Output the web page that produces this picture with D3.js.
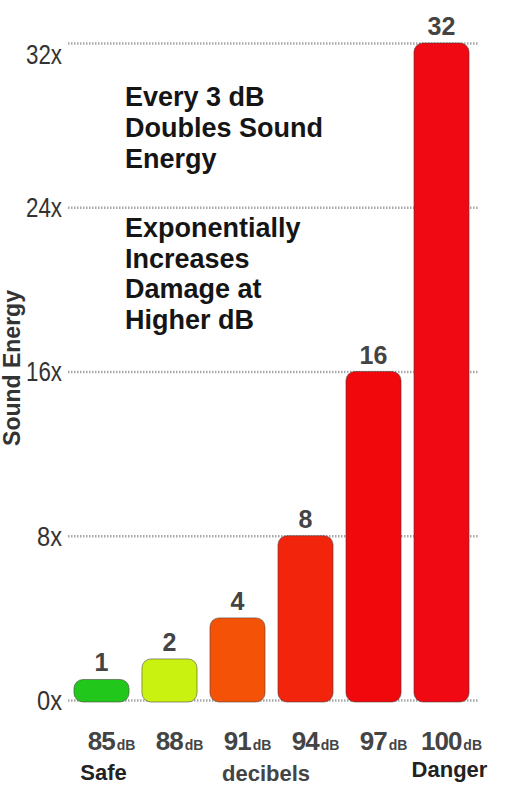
<!DOCTYPE html>
<html>
<head>
<meta charset="utf-8">
<script src="https://cdn.jsdelivr.net/npm/d3@7"></script>
<style>
  body { margin: 0; background: #fff; }
  svg { display: block; font-family: "Liberation Sans", Arial, sans-serif; }
</style>
</head>
<body>
<svg id="chart" width="509" height="792"></svg>
<script>
// data
const decibels = ["85", "88", "91", "94", "97", "100"];
const energy = [1, 2, 4, 8, 16, 32];
const barColors = ["#22c71c", "#c9f210", "#f45207", "#f2240b", "#f0080d", "#f00812"];
const yTicks = [0, 8, 16, 24, 32];
const noteTop = ["Every 3 dB", "Doubles Sound", "Energy"];
const noteBottom = ["Exponentially", "Increases", "Damage at", "Higher dB"];

const svg = d3.select("#chart");

const x = d3.scaleBand()
  .domain(decibels)
  .range([67.5, 475.5])
  .paddingInner(0.19)
  .paddingOuter(0.095);

const y = d3.scaleLinear()
  .domain([0, 32])
  .range([700, 43]);

// gridlines + tick labels
const yAxis = svg.append("g")
  .attr("transform", "translate(68,0)")
  .call(d3.axisLeft(y)
    .tickValues(yTicks)
    .tickSize(-410)
    .tickPadding(6)
    .tickFormat(d => d + "x"));

yAxis.select(".domain").remove();
yAxis.selectAll(".tick line")
  .attr("stroke", "#a8a8a8")
  .attr("stroke-width", 2.5)
  .attr("stroke-dasharray", "1.5,1.5");
// narrow look: squeeze the glyphs
yAxis.selectAll(".tick text")
  .attr("fill", "#333")
  .attr("font-size", 27)
  .attr("font-family", '"Liberation Sans", Arial, sans-serif')
  .attr("textLength", d => d >= 10 ? 36 : 25)
  .attr("lengthAdjust", "spacingAndGlyphs")
  .attr("dy", d => d === 32 ? "0.75em" : "0.35em");

// bars
svg.append("g")
  .selectAll("rect")
  .data(energy)
  .join("rect")
  .attr("x", (d, i) => x(decibels[i]))
  .attr("y", d => y(d))
  .attr("width", x.bandwidth())
  .attr("height", d => y(0) - y(d) + 2)
  .attr("rx", 9)
  .attr("fill", (d, i) => barColors[i])
  .attr("stroke", "rgba(70,60,60,0.55)")
  .attr("stroke-width", 1);

// value labels
svg.append("g")
  .selectAll("text")
  .data(energy)
  .join("text")
  .attr("x", (d, i) => x(decibels[i]) + x.bandwidth() / 2)
  .attr("y", d => y(d) - 8)
  .attr("text-anchor", "middle")
  .attr("font-size", 25)
  .attr("font-weight", "bold")
  .attr("fill", "#444")
  .text(d => d);

// x labels: number + small dB
const xl = svg.append("g")
  .selectAll("text")
  .data(decibels)
  .join("text")
  .attr("x", d => x(d) + x.bandwidth() / 2 + 10)
  .attr("y", 750)
  .attr("text-anchor", "middle")
  .attr("font-weight", "bold")
  .attr("fill", "#444");
xl.append("tspan").attr("font-size", 26).attr("letter-spacing", -1).text(d => d);
xl.append("tspan").attr("font-size", 14).attr("dx", 2).text("dB");

// Safe / decibels / Danger
const first = decibels[0], last = decibels[decibels.length - 1];
svg.append("text")
  .attr("x", x(first) + x.bandwidth() / 2 + 2)
  .attr("y", 780)
  .attr("text-anchor", "middle")
  .attr("font-size", 22).attr("font-weight", "bold").attr("fill", "#222")
  .text("Safe");
svg.append("text")
  .attr("x", 266)
  .attr("y", 781)
  .attr("text-anchor", "middle")
  .attr("font-size", 22).attr("font-weight", "bold").attr("fill", "#444")
  .text("decibels");
svg.append("text")
  .attr("x", x(last) + x.bandwidth() / 2 + 8)
  .attr("y", 777)
  .attr("text-anchor", "middle")
  .attr("font-size", 22).attr("font-weight", "bold").attr("fill", "#222")
  .text("Danger");

// y title
svg.append("text")
  .attr("transform", "translate(20,368) rotate(-90)")
  .attr("text-anchor", "middle")
  .attr("font-size", 23)
  .attr("font-weight", "bold")
  .attr("fill", "#333")
  .text("Sound Energy");

// annotation
svg.append("g")
  .selectAll("text")
  .data(noteTop)
  .join("text")
  .attr("x", 125)
  .attr("y", (d, i) => 106 + i * 31)
  .attr("font-size", 27)
  .attr("font-weight", "bold")
  .attr("fill", "#151515")
  .text(d => d);

svg.append("g")
  .selectAll("text")
  .data(noteBottom)
  .join("text")
  .attr("x", 125)
  .attr("y", (d, i) => 237 + i * 30.5)
  .attr("font-size", 27)
  .attr("font-weight", "bold")
  .attr("fill", "#151515")
  .text(d => d);
</script>
</body>
</html>
